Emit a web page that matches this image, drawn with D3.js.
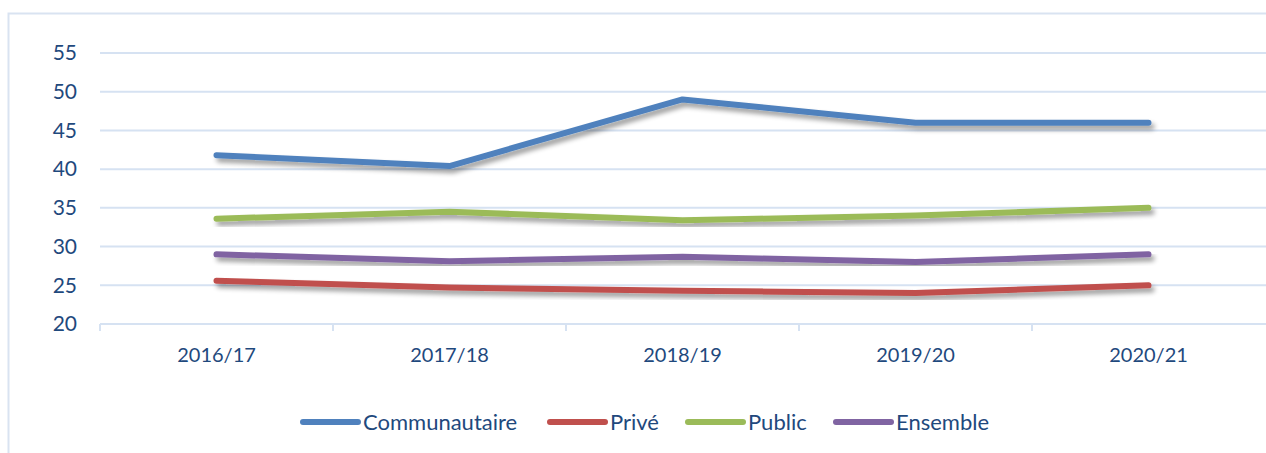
<!DOCTYPE html>
<html>
<head>
<meta charset="utf-8">
<script src="https://cdn.jsdelivr.net/npm/d3@7"></script>
<style>
  body { margin: 0; background: #fff; }
  svg { display: block; }
</style>
</head>
<body>
<script>
// data
var years = ["2016/17", "2017/18", "2018/19", "2019/20", "2020/21"];
var communautaire = [41.8, 40.4, 49.0, 46.0, 46.0];
var prive = [25.6, 24.7, 24.3, 24.0, 25.0];
var publicV = [33.6, 34.5, 33.4, 34.0, 35.0];
var ensemble = [29.0, 28.1, 28.7, 28.0, 29.0];
var seriesNames = ["Communautaire", "Privé", "Public", "Ensemble"];
var yTicks = [20, 25, 30, 35, 40, 45, 50, 55];

var colors = ["#4F81BD", "#C0504D", "#9BBB59", "#8064A2"];
var seriesValues = [communautaire, prive, publicV, ensemble];

var W = 1266, H = 453;
var margin = { top: 53, right: 1, bottom: 129, left: 100 };

var svg = d3.select("body").append("svg")
    .attr("width", W)
    .attr("height", H);

// drop shadow like the office chart
var defs = svg.append("defs");
var f = defs.append("filter").attr("id", "shadow")
    .attr("x", "-5%").attr("y", "-50%").attr("width", "110%").attr("height", "200%");
f.append("feGaussianBlur").attr("in", "SourceAlpha").attr("stdDeviation", 2.5).attr("result", "blur");
f.append("feOffset").attr("in", "blur").attr("dx", 3).attr("dy", 4).attr("result", "off");
f.append("feComponentTransfer").attr("in", "off").attr("result", "sh")
  .append("feFuncA").attr("type", "linear").attr("slope", 0.4);
var merge = f.append("feMerge");
merge.append("feMergeNode").attr("in", "sh");
merge.append("feMergeNode").attr("in", "SourceGraphic");

// outer chart border
svg.append("path")
    .attr("d", "M8.5," + H + "V13.5H" + W)
    .attr("fill", "none")
    .attr("stroke", "#D9E3F1")
    .attr("stroke-width", 2);

var x = d3.scaleBand().domain(years).range([margin.left, W - margin.right]);
var y = d3.scaleLinear().domain([20, 55]).range([H - margin.bottom, margin.top]);

var textColor = "#1F497D";
var gridColor = "#D6E2F2";
var font = "Lato, 'Open Sans', sans-serif";

// gridlines
svg.append("g")
  .selectAll("line")
  .data(yTicks.filter(function(d) { return d > 20; }))
  .join("line")
    .attr("x1", margin.left)
    .attr("x2", W)
    .attr("y1", function(d) { return y(d); })
    .attr("y2", function(d) { return y(d); })
    .attr("stroke", gridColor)
    .attr("stroke-width", 2);

// y axis labels
var yAxis = svg.append("g")
    .attr("transform", "translate(" + margin.left + ",0)")
    .call(d3.axisLeft(y).tickValues(yTicks).tickSize(0).tickPadding(23));
yAxis.select(".domain").remove();
yAxis.selectAll("text")
    .attr("fill", textColor)
    .attr("font-family", font)
    .attr("font-size", 21);

// x axis
var xAxis = svg.append("g")
    .attr("transform", "translate(0," + y(20) + ")")
    .call(d3.axisBottom(x).tickSize(0).tickPadding(24));
xAxis.select(".domain")
    .attr("stroke", gridColor)
    .attr("stroke-width", 2)
    .attr("d", "M" + margin.left + ",0H" + W);
xAxis.selectAll("text")
    .attr("fill", textColor)
    .attr("font-family", font)
    .attr("font-size", 20);

// category boundary ticks
var bounds = years.map(function(d) { return x(d); });
svg.append("g")
  .selectAll("line")
  .data(bounds)
  .join("line")
    .attr("x1", function(d) { return d; })
    .attr("x2", function(d) { return d; })
    .attr("y1", y(20))
    .attr("y2", y(20) + 7)
    .attr("stroke", gridColor)
    .attr("stroke-width", 2);

// lines
var line = d3.line()
    .x(function(d, i) { return x(years[i]) + x.bandwidth() / 2; })
    .y(function(d) { return y(d); });

svg.append("g")
  .selectAll("path")
  .data(seriesValues)
  .join("path")
    .attr("d", line)
    .attr("fill", "none")
    .attr("stroke", function(d, i) { return colors[i]; })
    .attr("stroke-width", 6)
    .attr("stroke-linecap", "round")
    .attr("stroke-linejoin", "round")
    .attr("filter", "url(#shadow)");

// legend
var legendX = [303, 550, 688, 836];
var legend = svg.append("g");
var items = legend.selectAll("g")
  .data(seriesNames)
  .join("g")
    .attr("transform", function(d, i) { return "translate(" + legendX[i] + ",422)"; });
items.append("line")
    .attr("x1", 0).attr("x2", 55)
    .attr("stroke", function(d, i) { return colors[i]; })
    .attr("stroke-width", 6)
    .attr("stroke-linecap", "round");
items.append("text")
    .attr("x", 60)
    .attr("dy", "0.35em")
    .attr("fill", textColor)
    .attr("font-family", font)
    .attr("font-size", 22)
    .text(function(d) { return d; });
</script>
</body>
</html>
